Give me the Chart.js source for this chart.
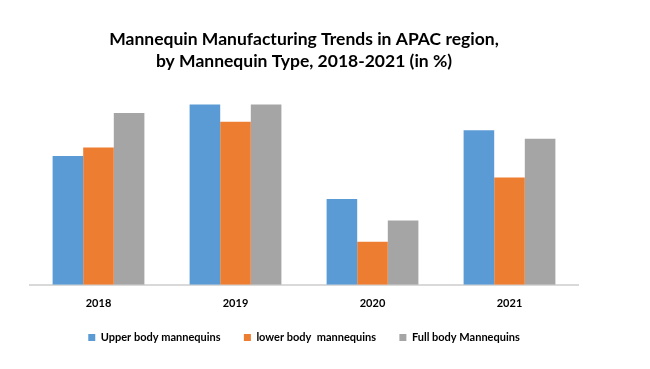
<!DOCTYPE html>
<html>
<head>
<meta charset="utf-8">
<script src="https://cdn.jsdelivr.net/npm/chart.js@4/dist/chart.umd.min.js"></script>
<style>
  html, body { margin: 0; padding: 0; background: #fff; }
  #wrap { width: 650px; height: 369px; }
</style>
</head>
<body>
<div id="wrap"><canvas id="grafico"></canvas></div>
<script>
const anos = ['2018', '2019', '2020', '2021'];
const upperBody = [30, 42, 20, 36];
const lowerBody = [32, 38, 10, 25];
const fullBody = [40, 42, 15, 34];

const ctx = document.getElementById('grafico').getContext('2d');
const grafico = new Chart(ctx, {
    type: 'bar',
    data: {
        labels: anos,
        datasets: [{
            label: 'Upper body mannequins  ',
            data: upperBody,
            backgroundColor: '#5b9bd5'
        }, {
            label: 'lower body  mannequins  ',
            data: lowerBody,
            backgroundColor: '#ed7d31'
        }, {
            label: 'Full body Mannequins',
            data: fullBody,
            backgroundColor: '#a5a5a5'
        }]
    },
    options: {
        responsive: true,
        maintainAspectRatio: false,
        animation: false,
        datasets: {
            bar: { categoryPercentage: 0.67, barPercentage: 1.0 }
        },
        layout: { padding: { left: 30, right: 72, top: 29, bottom: 16 } },
        plugins: {
            title: {
                display: true,
                text: ['Mannequin Manufacturing Trends in APAC region,', 'by Mannequin Type, 2018-2021 (in %)'],
                color: '#000',
                font: { family: 'Lato', size: 17.5, weight: 'bold', lineHeight: 1.22 },
                padding: { top: 0, bottom: 7 }
            },
            legend: {
                position: 'bottom',
                labels: {
                    color: '#000',
                    font: { family: 'Lato', size: 11, weight: 'bold' },
                    boxWidth: 7,
                    boxHeight: 7,
                    padding: 18
                }
            },
            tooltip: { enabled: false }
        },
        scales: {
            x: {
                grid: { display: false },
                border: { display: true, color: '#d9d9d9', width: 2 },
                ticks: {
                    color: '#000',
                    font: { family: 'Lato', size: 11, weight: 'bold' },
                    padding: 4
                }
            },
            y: {
                display: false,
                min: 0,
                max: 48
            }
        }
    }
});
</script>
</body>
</html>
